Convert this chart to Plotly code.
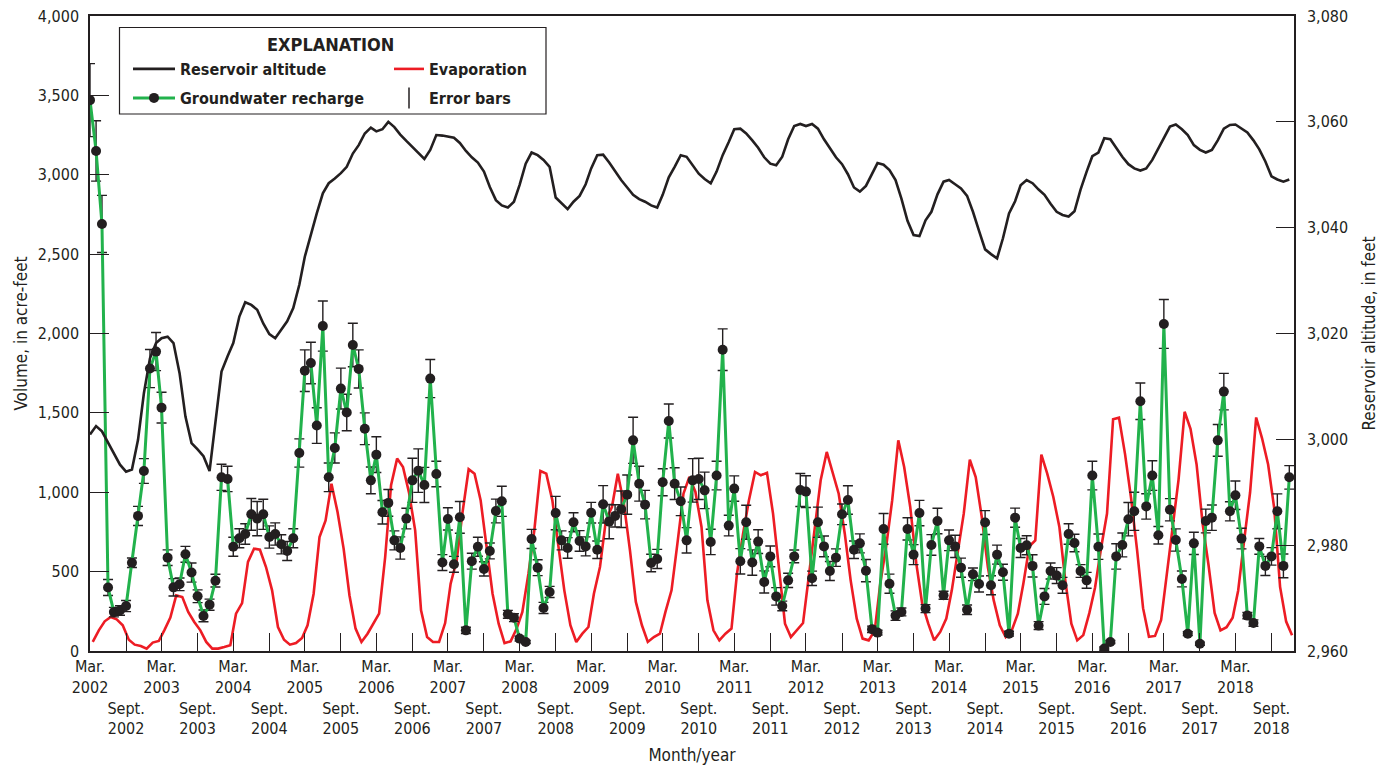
import pandas as pd
import plotly.graph_objects as go

# ---------------- data (monthly, March 2002 - December 2018) ----------------
START_MONTH = "2002-03-01"

RECHARGE = [
    3470, 3150, 2690, 400, 245, 255, 283, 556, 851, 1134, 1779, 1886,
    1533, 588, 401, 420, 609, 494, 345, 221, 292, 443, 1094, 1084,
    657, 710, 737, 861, 834, 861, 718, 737, 672, 630, 710, 1247,
    1766, 1814, 1420, 2047, 1094, 1279, 1653, 1502, 1928, 1777, 1400, 1075,
    1237, 874, 933, 697, 649, 834, 1075, 1136, 1046, 1716, 1115, 557,
    832, 546, 842, 130, 566, 657, 517, 630, 882, 943, 231, 210,
    78, 57, 706, 525, 271, 372, 869, 697, 649, 811, 693, 659,
    871, 638, 924, 815, 851, 893, 985, 1327, 1054, 922, 554, 580,
    1063, 1449, 1054, 943, 697, 1075, 1084, 1012, 687, 1105, 1898, 790,
    1023, 565, 811, 557, 689, 435, 596, 344, 284, 445, 596, 1014,
    1004, 458, 811, 659, 504, 588, 861, 951, 638, 678, 506, 137,
    116, 769, 424, 223, 246, 769, 607, 869, 267, 668, 819, 351,
    697, 659, 525, 260, 483, 422, 809, 414, 607, 496, 109, 840,
    649, 666, 536, 160, 344, 504, 475, 414, 737, 680, 504, 445,
    1105, 657, 15, 57, 596, 668, 830, 880, 1573, 911, 1105, 729,
    2060, 890, 699, 454, 109, 678, 46, 819, 840, 1327, 1634, 880,
    981, 708, 223, 176, 659, 536, 596, 880, 536, 1094,
]

RECHARGE_ERR = [
    230, 190, 180, 50, 30, 30, 35, 30, 60, 78, 120, 120,
    97, 49, 55, 40, 50, 60, 40, 37, 35, 40, 82, 80,
    60, 60, 65, 100, 108, 95, 70, 70, 60, 60, 60, 89,
    131, 131, 112, 158, 90, 95, 129, 115, 137, 120, 100, 84,
    113, 74, 84, 60, 70, 65, 139, 137, 111, 120, 80, 50,
    70, 50, 100, 20, 50, 60, 45, 50, 75, 95, 25, 25,
    15, 10, 60, 50, 35, 35, 105, 60, 65, 60, 65, 60,
    65, 55, 118, 108, 70, 115, 124, 145, 110, 90, 55, 60,
    85, 107, 100, 90, 80, 137, 130, 115, 80, 90, 131, 65,
    80, 80, 107, 80, 75, 70, 65, 55, 30, 45, 40, 104,
    100, 45, 95, 65, 60, 55, 65, 90, 55, 60, 70, 20,
    15, 97, 60, 30, 25, 70, 63, 80, 25, 65, 80, 25,
    65, 70, 60, 30, 40, 50, 75, 60, 60, 50, 15, 60,
    60, 60, 70, 25, 50, 50, 50, 50, 65, 55, 40, 50,
    90, 80, 10, 10, 80, 75, 105, 120, 115, 80, 93, 55,
    154, 70, 70, 50, 12, 70, 10, 75, 80, 100, 115, 60,
    90, 65, 20, 20, 50, 60, 55, 110, 75, 74,
]

EVAPORATION = [
    57, 130, 187, 214, 199, 162, 71, 40, 31, 15, 53, 63,
    130, 210, 350, 340, 246, 183, 130, 57, 15, 15, 25, 36,
    235, 302, 561, 645, 638, 529, 382, 151, 71, 40, 50, 82,
    162, 361, 718, 823, 1054, 876, 645, 350, 141, 57, 109, 172,
    235, 592, 1044, 1212, 1159, 995, 760, 256, 88, 57, 57, 176,
    424, 571, 876, 1145, 1117, 950, 650, 361, 172, 50, 61, 141,
    246, 487, 760, 1134, 1117, 949, 660, 382, 162, 57, 109, 151,
    361, 529, 823, 907, 1117, 928, 634, 309, 162, 57, 88, 109,
    246, 382, 676, 991, 1096, 1002, 781, 319, 130, 67, 109, 141,
    487, 739, 949, 1128, 1107, 1123, 865, 529, 172, 88, 130, 176,
    466, 781, 1075, 1254, 1117, 991, 739, 445, 204, 78, 67, 130,
    424, 666, 950, 1327, 1159, 907, 550, 298, 172, 67, 120, 204,
    382, 613, 865, 1205, 1096, 844, 529, 319, 162, 88, 130, 235,
    424, 660, 697, 1237, 1117, 970, 781, 445, 172, 67, 100, 240,
    400, 650, 866, 1460, 1470, 1240, 960, 640, 270, 90, 95, 195,
    480, 800, 1080, 1507, 1400, 1175, 800, 540, 240, 130, 150, 210,
    380, 700, 1000, 1471, 1340, 1175, 900, 404, 185, 99,
]

RESERVOIR_ALT = [
    3000.9, 3002.5, 3001.5, 2999.3, 2997.4, 2995.2, 2993.9, 2994.3, 2999.9, 3008.7, 3015.3, 3018.2,
    3019.1, 3019.4, 3018.2, 3012.5, 3004.3, 2999.3, 2998.1, 2996.8, 2994.0, 3003.0, 3012.8, 3015.7,
    3018.2, 3023.2, 3025.9, 3025.4, 3024.5, 3021.9, 3019.9, 3019.1, 3020.7, 3022.3, 3024.8, 3029.2,
    3034.5, 3038.9, 3042.7, 3046.5, 3048.4, 3049.3, 3050.3, 3051.5, 3054.0, 3055.6, 3057.8, 3058.9,
    3058.2, 3058.6, 3060.0, 3059.0, 3057.6, 3056.4, 3055.2, 3054.0, 3053.0, 3054.7, 3057.5, 3057.4,
    3057.2, 3057.0, 3056.0, 3054.5, 3053.3, 3052.3, 3050.6, 3047.7, 3045.2, 3044.2, 3043.8, 3044.9,
    3048.1, 3052.1, 3054.2, 3053.7, 3052.8, 3051.5, 3045.7, 3044.6, 3043.5, 3044.9, 3046.0, 3048.2,
    3051.2, 3053.7, 3053.8, 3052.3, 3050.7, 3049.0, 3047.6, 3046.2, 3045.4, 3044.9, 3044.2, 3043.8,
    3046.2, 3049.5, 3051.5, 3053.7, 3053.4, 3051.8, 3050.2, 3049.2, 3048.4, 3050.6, 3053.7, 3056.2,
    3058.6, 3058.7, 3057.8, 3056.5, 3055.1, 3053.3, 3052.1, 3051.8, 3053.4, 3056.7, 3059.2, 3059.6,
    3059.2, 3059.6, 3058.7, 3056.7, 3055.0, 3053.3, 3052.0, 3050.1, 3047.6, 3046.8, 3047.9, 3050.2,
    3052.2, 3051.9, 3050.9, 3049.0, 3045.5, 3041.3, 3038.6, 3038.4, 3041.4, 3043.0, 3046.3, 3048.7,
    3049.0, 3048.2, 3047.4, 3046.0, 3043.0, 3039.4, 3035.9, 3035.0, 3034.2, 3038.0, 3042.7, 3045.0,
    3048.0, 3049.0, 3048.4, 3047.2, 3046.2, 3044.5, 3043.0, 3042.4, 3042.1, 3043.1, 3047.2, 3050.6,
    3053.5, 3054.2, 3056.9, 3056.7, 3055.0, 3053.4, 3052.0, 3051.2, 3050.8, 3051.2, 3052.8, 3055.0,
    3056.9, 3059.1, 3059.5, 3058.6, 3057.5, 3055.6, 3054.7, 3054.2, 3054.7, 3056.5, 3058.7, 3059.4,
    3059.5, 3058.7, 3058.0, 3056.5, 3054.8, 3052.5, 3049.7, 3049.1, 3048.7, 3049.1,
]

TICK_YEARS = list(range(2002, 2019))
Y_LEFT_TICKS = [0, 500, 1000, 1500, 2000, 2500, 3000, 3500, 4000]
Y_RIGHT_TICKS = [2960, 2980, 3000, 3020, 3040, 3060, 3080]

# ---------------- derived x positions ----------------
months = pd.date_range(START_MONTH, periods=len(RECHARGE), freq="MS")
mid_months = months + pd.Timedelta(days=14)

mar_ticks = [f"{y}-03-01" for y in TICK_YEARS]
sep_ticks = [f"{y}-09-01" for y in TICK_YEARS]
tick_vals = mar_ticks + sep_ticks
tick_text = [f"Mar.<br>{y}" for y in TICK_YEARS] + [f"<br><br>Sept.<br>{y}" for y in TICK_YEARS]

X_RANGE = ["2002-03-01", "2018-12-25"]

FONT = "Liberation Sans Narrow, DejaVu Sans Condensed, Arial Narrow, sans-serif"
INK = "#231f20"
GREEN = "#22b24c"
RED = "#ed1c24"

fig = go.Figure()

fig.add_trace(go.Scatter(
    x=mid_months, y=EVAPORATION, name="Evaporation", mode="lines",
    line=dict(color=RED, width=2.6), legend="legend3", yaxis="y",
))
fig.add_trace(go.Scatter(
    x=months, y=RESERVOIR_ALT, name="Reservoir altitude", mode="lines",
    line=dict(color=INK, width=2.6), legend="legend", yaxis="y2",
))
fig.add_trace(go.Scatter(
    x=months, y=RECHARGE, name="Groundwater recharge", mode="lines+markers",
    line=dict(color=GREEN, width=3),
    marker=dict(color=INK, size=10),
    error_y=dict(type="data", array=RECHARGE_ERR, visible=True,
                 color=INK, thickness=1.4, width=5),
    legend="legend2", yaxis="y",
))
fig.add_trace(go.Scatter(
    x=[None], y=[None], name="Error bars", mode="markers",
    marker=dict(symbol="line-ns", size=15, line=dict(color=INK, width=1.5)),
    legend="legend4", yaxis="y",
))

def px2paper_x(px):
    return (px - 90) / 1204

def px2paper_y(py):
    return (651 - py) / 635

leg_font = dict(family=FONT, size=16, color=INK, weight="bold")
common_leg = dict(bgcolor="rgba(0,0,0,0)", borderwidth=0, font=leg_font,
                  xanchor="left", yanchor="middle", orientation="v")

TICK_FONT = dict(family=FONT, size=16, color=INK)
TITLE_FONT = dict(family=FONT, size=17, color=INK)

fig.update_layout(
    width=1385, height=767,
    margin=dict(l=90, r=91, t=16, b=116, autoexpand=False),
    paper_bgcolor="white", plot_bgcolor="white",
    font=dict(family=FONT, size=15, color=INK),
    showlegend=True,
    legend=dict(x=px2paper_x(128), y=px2paper_y(69), itemwidth=42, **common_leg),
    legend2=dict(x=px2paper_x(128), y=px2paper_y(98), itemwidth=42, **common_leg),
    legend3=dict(x=px2paper_x(389), y=px2paper_y(69), itemwidth=30, **common_leg),
    legend4=dict(x=px2paper_x(389), y=px2paper_y(98), itemwidth=30, **common_leg),
    xaxis=dict(
        type="date", range=X_RANGE, tickmode="array", tickvals=tick_vals, ticktext=tick_text,
        ticks="inside", ticklen=18, tickwidth=1, tickcolor=INK,
        showline=True, linecolor=INK, linewidth=1.5, mirror=True,
        showgrid=False, zeroline=False, tickangle=0,
        tickfont=TICK_FONT,
        title=dict(text="Month/year", font=TITLE_FONT, standoff=12),
    ),
    xaxis2=dict(
        type="date", range=X_RANGE, overlaying="x", side="top", anchor="y",
        tickmode="array", tickvals=tick_vals, ticks="inside", ticklen=11, tickwidth=1,
        tickcolor=INK, showticklabels=False, showline=False, showgrid=False, zeroline=False,
    ),
    xaxis3=dict(
        type="date", range=X_RANGE, overlaying="x", side="bottom", anchor="y",
        tickmode="array", tickvals=sep_ticks, ticks="outside", ticklen=47, tickwidth=1,
        tickcolor=INK, showticklabels=False, showline=False, showgrid=False, zeroline=False,
    ),
    yaxis=dict(
        range=[0, 4000], tickmode="array", tickvals=Y_LEFT_TICKS, tickformat=",",
        ticks="inside", ticklen=19, tickwidth=1, tickcolor=INK,
        showline=True, linecolor=INK, linewidth=1.5, showgrid=False, zeroline=False,
        tickfont=TICK_FONT, ticklabelstandoff=6,
        title=dict(text="Volume, in acre-feet", font=TITLE_FONT, standoff=6),
    ),
    yaxis2=dict(
        range=[2960, 3080], overlaying="y", side="right", anchor="x",
        tickmode="array", tickvals=Y_RIGHT_TICKS, tickformat=",",
        ticks="inside", ticklen=18, tickwidth=1, tickcolor=INK,
        showline=True, linecolor=INK, linewidth=1.5, showgrid=False, zeroline=False,
        tickfont=TICK_FONT, ticklabelstandoff=8,
        title=dict(text="Reservoir altitude, in feet", font=TITLE_FONT, standoff=16),
    ),
    shapes=[dict(
        type="rect", xref="paper", yref="paper", layer="below",
        x0=px2paper_x(119.5), x1=px2paper_x(546), y0=px2paper_y(114), y1=px2paper_y(27.5),
        line=dict(color=INK, width=1.2), fillcolor="white",
    )],
    annotations=[dict(
        text="<b>EXPLANATION</b>", xref="paper", yref="paper",
        x=px2paper_x(330), y=px2paper_y(45), showarrow=False,
        font=dict(family=FONT, size=18, color=INK), xanchor="center", yanchor="middle",
    )],
)

fig.write_html("out.html")
